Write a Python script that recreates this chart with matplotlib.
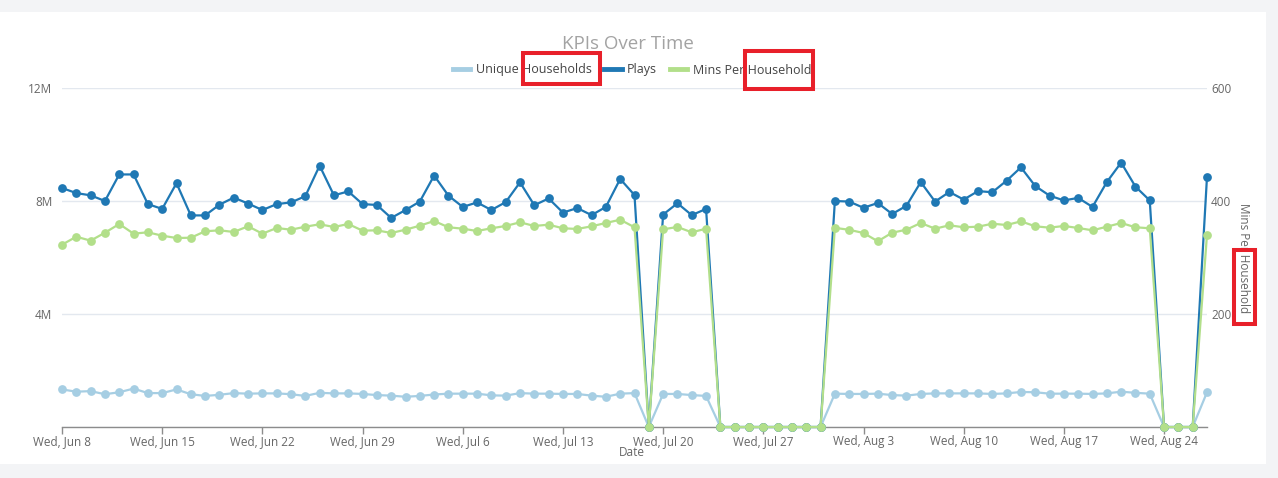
import matplotlib
matplotlib.use('Agg')
import matplotlib.pyplot as plt
import pandas as pd
from matplotlib.lines import Line2D
from matplotlib.patches import Rectangle

plt.rcParams['font.family'] = ['Open Sans', 'DejaVu Sans']

# ---------------- data ----------------
start_date = '2022-06-08'
n_days = 81

unique_households_m = [
    1.33, 1.25, 1.27, 1.16, 1.23, 1.36, 1.20, 1.20, 1.33, 1.16,
    1.10, 1.14, 1.20, 1.18, 1.19, 1.19, 1.16, 1.10, 1.21, 1.19,
    1.19, 1.17, 1.13, 1.11, 1.07, 1.10, 1.15, 1.18, 1.18, 1.18,
    1.12, 1.11, 1.20, 1.18, 1.18, 1.17, 1.17, 1.11, 1.07, 1.18,
    1.20, 0.0, 1.17, 1.17, 1.13, 1.10, 0.0, 0.0, 0.0, 0.0,
    0.0, 0.0, 0.0, 0.0, 1.18, 1.17, 1.17, 1.18, 1.13, 1.11,
    1.17, 1.19, 1.19, 1.19, 1.19, 1.17, 1.19, 1.24, 1.23, 1.18,
    1.18, 1.18, 1.17, 1.19, 1.25, 1.21, 1.18, 0.0, 0.0, 0.0,
    1.23,
]

plays_m = [
    8.46, 8.28, 8.20, 8.00, 8.94, 8.94, 7.89, 7.72, 8.63, 7.49,
    7.49, 7.87, 8.12, 7.91, 7.68, 7.89, 7.95, 8.17, 9.25, 8.20,
    8.34, 7.89, 7.86, 7.40, 7.68, 7.98, 8.90, 8.19, 7.79, 7.95,
    7.68, 7.96, 8.66, 7.85, 8.09, 7.59, 7.75, 7.50, 7.79, 8.78,
    8.21, 0.0, 7.52, 7.92, 7.50, 7.72, 0.0, 0.0, 0.0, 0.0,
    0.0, 0.0, 0.0, 0.0, 8.00, 7.98, 7.76, 7.93, 7.54, 7.83,
    8.67, 7.98, 8.32, 8.05, 8.35, 8.31, 8.72, 9.19, 8.53, 8.19,
    8.02, 8.11, 7.79, 8.67, 9.36, 8.51, 8.02, 0.0, 0.0, 0.0,
    8.86,
]

mins_per_household = [
    322.7, 336.8, 329.8, 343.9, 359.3, 342.2, 344.6, 338.6, 334.5, 335.0,
    346.4, 348.1, 345.2, 355.2, 342.2, 352.2, 349.2, 354.5, 358.8, 354.0,
    359.3, 347.5, 348.1, 343.4, 349.2, 356.3, 364.6, 353.5, 351.0, 346.9,
    351.7, 355.8, 362.3, 355.8, 358.1, 351.7, 350.5, 355.2, 361.1, 366.9,
    353.5, 0.0, 349.9, 354.0, 344.6, 351.0, 0.0, 0.0, 0.0, 0.0,
    0.0, 0.0, 0.0, 0.0, 352.5, 349.0, 343.4, 328.7, 343.9, 349.2,
    361.1, 351.0, 357.0, 353.5, 354.5, 359.8, 357.5, 364.0, 355.2, 352.8,
    355.8, 352.2, 348.1, 354.5, 361.1, 353.5, 351.7, 0.0, 0.0, 0.0,
    340.4,
]

series_names = ['Unique Households', 'Plays', 'Mins Per Household']
series_colors = ['#a6cee3', '#1f78b4', '#b2df8a']

tick_labels = ['Wed, Jun 8', 'Wed, Jun 15', 'Wed, Jun 22', 'Wed, Jun 29',
               'Wed, Jul 6', 'Wed, Jul 13', 'Wed, Jul 20', 'Wed, Jul 27',
               'Wed, Aug 3', 'Wed, Aug 10', 'Wed, Aug 17', 'Wed, Aug 24']
left_ticks = [0, 4, 8, 12]
left_labels = ['', '4M', '8M', '12M']
right_ticks = [0, 200, 400, 600]
right_labels = ['', '200', '400', '600']

dates = pd.date_range(start_date, periods=n_days, freq='D')
tick_dates = pd.date_range(start_date, periods=len(tick_labels), freq='7D')

# ---------------- figure ----------------
W, H = 1278, 478
fig = plt.figure(figsize=(W / 100, H / 100), dpi=100)
fig.patch.set_facecolor('#f3f4f6')
fig.add_artist(Rectangle((0, 14 / H), 1266 / W, (464 - 12) / H,
                         transform=fig.transFigure, facecolor='white',
                         edgecolor='none', zorder=-10))

ax = fig.add_axes([62 / W, 1 - 427 / H, (1207 - 62) / W, (427 - 88) / H])
ax.set_facecolor('none')
ax2 = ax.twinx()

ms = 6.3
lw = 1.6
ax.plot(dates, unique_households_m, color=series_colors[0], lw=lw,
        marker='o', ms=ms, mew=0, zorder=3, clip_on=False)
ax.plot(dates, plays_m, color=series_colors[1], lw=lw,
        marker='o', ms=ms, mew=0, zorder=4, clip_on=False)
ax2.plot(dates, mins_per_household, color=series_colors[2], lw=lw,
         marker='o', ms=ms, mew=0, zorder=5, clip_on=False)

ax.set_xlim(dates[0], dates[-1])
ax.set_ylim(0, 12)
ax2.set_ylim(0, 600)

ax.set_yticks(left_ticks)
ax.set_yticklabels(left_labels)
ax2.set_yticks(right_ticks)
ax2.set_yticklabels(right_labels)
ax.set_xticks(tick_dates)
ax.set_xticklabels(tick_labels)

ax.set_axisbelow(True)
ax.grid(axis='y', color='#e3e8ef', lw=1)
ax.grid(axis='x', visible=False)

for s in ['top', 'left', 'right']:
    ax.spines[s].set_visible(False)
    ax2.spines[s].set_visible(False)
ax2.spines['bottom'].set_visible(False)
ax.spines['bottom'].set_color('#8c8c8c')
ax.spines['bottom'].set_linewidth(1)

ax.tick_params(axis='y', length=0, pad=7, labelcolor='#666666', labelsize=8.5)
ax2.tick_params(axis='y', length=0, pad=3, labelcolor='#666666', labelsize=8.5)
ax.tick_params(axis='x', length=5, width=1, color='#8c8c8c', pad=0.5,
               labelcolor='#666666', labelsize=8.5)

# texts
fig.text(628 / W, 1 - 44 / H, 'KPIs Over Time', ha='center', va='center',
         fontsize=13.5, color='#a3a3a3')
fig.text(632 / W, 1 - 453 / H, 'Date', ha='center', va='center',
         fontsize=8.5, color='#666666')
fig.text(1244 / W, 1 - 258 / H, 'Mins Per Household', ha='center', va='center',
         rotation=-90, fontsize=8.5, color='#666666')

handles = [Line2D([0], [0], color=c, lw=3.5) for c in series_colors]
fig.legend(handles, series_names, loc='center',
           bbox_to_anchor=(632 / W, 1 - 70 / H), ncol=3, frameon=False,
           fontsize=9, handlelength=1.4, handletextpad=0.45,
           columnspacing=1.0, labelcolor='#444444')

# red highlight boxes
def red_box(x0, y0, x1, y1):
    fig.add_artist(Rectangle((x0 / W, 1 - y1 / H), (x1 - x0) / W, (y1 - y0) / H,
                             transform=fig.transFigure, fill=False,
                             edgecolor='#e8202a', lw=2.9, zorder=20))

red_box(523, 53, 600, 84)
red_box(745, 51, 813, 89)
red_box(1234, 250, 1255, 324)

fig.savefig('out.png', dpi=100, facecolor=fig.get_facecolor())
